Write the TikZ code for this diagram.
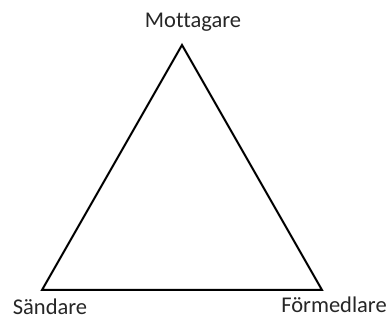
\documentclass[tikz,border=0pt]{standalone}
\usepackage{fontspec}
\setmainfont{Carlito}[RawFeature=-liga]
\usetikzlibrary{positioning}

\begin{document}
\begin{tikzpicture}[
  x=1pt, y=1pt,
  role/.style={font=\fontsize{22.5}{26}\selectfont, text=black!85, inner sep=0pt, anchor=base},
  side/.style={line width=2pt, line join=miter}]
\useasboundingbox (0,0) rectangle (389,320);
\coordinate (top) at (182,275);
\coordinate (left) at (42,30);
\coordinate (right) at (322,30);
\draw[side] (top) -- (right) -- (left) -- cycle;
\node[role] (mott) at (193,292) {Mottagare};
\node[role] (sand) at (50,5) {Sändare};
\node[role] (form) at (334,7) {Förmedlare};
\end{tikzpicture}
\end{document}
